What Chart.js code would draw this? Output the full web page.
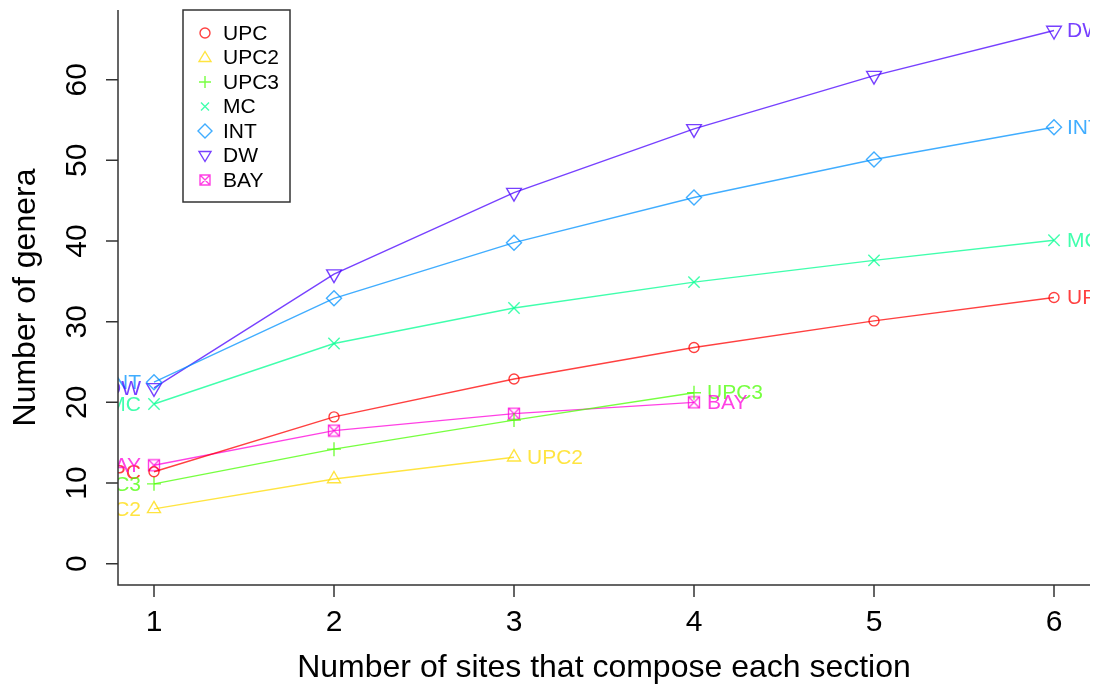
<!DOCTYPE html>
<html>
<head>
<meta charset="utf-8">
<script src="https://cdn.jsdelivr.net/npm/chart.js@4"></script>
<style>
  body { margin: 0; background: #fff; }
  canvas { display: block; }
</style>
</head>
<body>
<canvas id="chart" width="1097" height="693"></canvas>
<script>
// data
const sites = [1, 2, 3, 4, 5, 6];
const upc  = [11.4, 18.2, 22.9, 26.8, 30.1, 33.0];
const upc2 = [6.8, 10.5, 13.2];
const upc3 = [9.9, 14.2, 17.8, 21.2];
const mc   = [19.8, 27.3, 31.7, 34.9, 37.6, 40.1];
const intr = [22.5, 32.9, 39.8, 45.4, 50.1, 54.1];
const dw   = [21.8, 35.9, 46.0, 53.9, 60.5, 66.1];
const bay  = [12.2, 16.5, 18.6, 20.0];
const names = ['UPC', 'UPC2', 'UPC3', 'MC', 'INT', 'DW', 'BAY'];
const xTicks = [1, 2, 3, 4, 5, 6];
const yTicks = [0, 10, 20, 30, 40, 50, 60];

const colors = ['rgba(255,0,0,0.75)', 'rgba(255,219,0,0.75)', 'rgba(73,255,0,0.75)',
  'rgba(0,255,146,0.75)', 'rgba(0,146,255,0.75)', 'rgba(73,0,255,0.75)', 'rgba(255,0,219,0.75)'];

// square with an x inside, for BAY
function boxX(color) {
  const c = document.createElement('canvas');
  c.width = 14; c.height = 14;
  const g = c.getContext('2d');
  g.strokeStyle = color; g.lineWidth = 1.4;
  g.strokeRect(1.5, 1.5, 11, 11);
  g.beginPath();
  g.moveTo(1.5, 1.5); g.lineTo(12.5, 12.5);
  g.moveTo(12.5, 1.5); g.lineTo(1.5, 12.5);
  g.stroke();
  return c;
}

const series = [upc, upc2, upc3, mc, intr, dw, bay];
const styles = ['circle', 'triangle', 'cross', 'crossRot', 'rectRot', 'triangle', boxX(colors[6])];
const rotations = [0, 0, 0, 0, 0, 180, 0];
const radii = [5, 7.5, 7, 8, 7.5, 8.5, 6];

const datasets = series.map((vals, i) => ({
  label: names[i],
  data: vals.map((v, j) => ({ x: sites[j], y: v })),
  borderColor: colors[i],
  backgroundColor: 'transparent',
  borderWidth: 1.4,
  pointStyle: styles[i],
  pointRotation: rotations[i],
  pointRadius: radii[i],
  pointBorderWidth: 1.4,
  pointBorderColor: colors[i],
  tension: 0
}));

function marker(ctx, i, x, y) {
  ctx.save();
  ctx.strokeStyle = colors[i];
  ctx.lineWidth = 1.4;
  ctx.beginPath();
  const r = 5;
  if (i === 0) { ctx.arc(x, y, r, 0, Math.PI * 2); }
  else if (i === 1) { ctx.moveTo(x, y - r - 1); ctx.lineTo(x + r + 1, y + r - 1); ctx.lineTo(x - r - 1, y + r - 1); ctx.closePath(); }
  else if (i === 2) { ctx.moveTo(x - r - 1, y); ctx.lineTo(x + r + 1, y); ctx.moveTo(x, y - r - 1); ctx.lineTo(x, y + r + 1); }
  else if (i === 3) { ctx.moveTo(x - r + 1, y - r + 1); ctx.lineTo(x + r - 1, y + r - 1); ctx.moveTo(x + r - 1, y - r + 1); ctx.lineTo(x - r + 1, y + r - 1); }
  else if (i === 4) { ctx.moveTo(x, y - r - 2); ctx.lineTo(x + r + 2, y); ctx.lineTo(x, y + r + 2); ctx.lineTo(x - r - 2, y); ctx.closePath(); }
  else if (i === 5) { ctx.moveTo(x - r - 1, y - r + 1); ctx.lineTo(x + r + 1, y - r + 1); ctx.lineTo(x, y + r + 1); ctx.closePath(); }
  else { ctx.rect(x - r, y - r, 2 * r, 2 * r); ctx.moveTo(x - r, y - r); ctx.lineTo(x + r, y + r); ctx.moveTo(x + r, y - r); ctx.lineTo(x - r, y + r); }
  ctx.stroke();
  ctx.restore();
}

const decor = {
  id: 'decor',
  afterDatasetsDraw(chart) {
    const ctx = chart.ctx;
    const a = chart.chartArea;
    const xs = chart.scales.x, ys = chart.scales.y;

    // labels next to first and last points, clipped to plot area
    ctx.save();
    ctx.beginPath();
    ctx.rect(a.left, a.top, a.right - a.left, a.bottom - a.top);
    ctx.clip();
    ctx.font = '21px "Liberation Sans", Arial, sans-serif';
    ctx.textBaseline = 'middle';
    series.forEach((vals, i) => {
      ctx.fillStyle = colors[i];
      const n = vals.length - 1;
      ctx.textAlign = 'left';
      ctx.fillText(names[i], xs.getPixelForValue(sites[n]) + 13, ys.getPixelForValue(vals[n]) + 1);
      ctx.textAlign = 'right';
      ctx.fillText(names[i], xs.getPixelForValue(sites[0]) - 13, ys.getPixelForValue(vals[0]) + 1);
    });
    ctx.restore();

    // axes
    ctx.save();
    ctx.strokeStyle = '#333';
    ctx.lineWidth = 1.5;
    ctx.beginPath();
    ctx.moveTo(a.left, a.top);
    ctx.lineTo(a.left, a.bottom);
    ctx.lineTo(a.right, a.bottom);
    xTicks.forEach(t => {
      const px = xs.getPixelForValue(t);
      ctx.moveTo(px, a.bottom); ctx.lineTo(px, a.bottom + 12);
    });
    yTicks.forEach(t => {
      const py = ys.getPixelForValue(t);
      ctx.moveTo(a.left, py); ctx.lineTo(a.left - 12, py);
    });
    ctx.stroke();

    ctx.fillStyle = '#000';
    ctx.font = '30px "Liberation Sans", Arial, sans-serif';
    ctx.textAlign = 'center';
    ctx.textBaseline = 'middle';
    xTicks.forEach(t => ctx.fillText(String(t), xs.getPixelForValue(t), 623));
    yTicks.forEach(t => {
      ctx.save();
      ctx.translate(78, ys.getPixelForValue(t));
      ctx.rotate(-Math.PI / 2);
      ctx.fillText(String(t), 0, 0);
      ctx.restore();
    });

    ctx.font = '32px "Liberation Sans", Arial, sans-serif';
    ctx.fillText('Number of sites that compose each section', (a.left + a.right) / 2, 668);
    ctx.save();
    ctx.translate(26, (a.top + a.bottom) / 2);
    ctx.rotate(-Math.PI / 2);
    ctx.fillText('Number of genera', 0, 0);
    ctx.restore();

    // legend
    ctx.fillStyle = '#fff';
    ctx.fillRect(183, 10, 107, 192);
    ctx.strokeStyle = '#333';
    ctx.lineWidth = 1.5;
    ctx.strokeRect(183, 10, 107, 192);
    ctx.font = '21px "Liberation Sans", Arial, sans-serif';
    ctx.textAlign = 'left';
    names.forEach((nm, i) => {
      const y = 33 + i * 24.5;
      marker(ctx, i, 205, y);
      ctx.fillStyle = '#000';
      ctx.fillText(nm, 223, y + 1);
    });
    ctx.restore();
  }
};

new Chart(document.getElementById('chart').getContext('2d'), {
  type: 'line',
  data: { datasets: datasets },
  options: {
    responsive: false,
    animation: false,
    layout: { autoPadding: false, padding: { left: 118, top: 10, right: 7, bottom: 108 } },
    plugins: { legend: { display: false }, tooltip: { enabled: false } },
    scales: {
      x: { type: 'linear', min: 0.8, max: 6.2, display: false },
      y: { type: 'linear', min: -2.64, max: 68.64, display: false }
    }
  },
  plugins: [decor]
});
</script>
</body>
</html>
